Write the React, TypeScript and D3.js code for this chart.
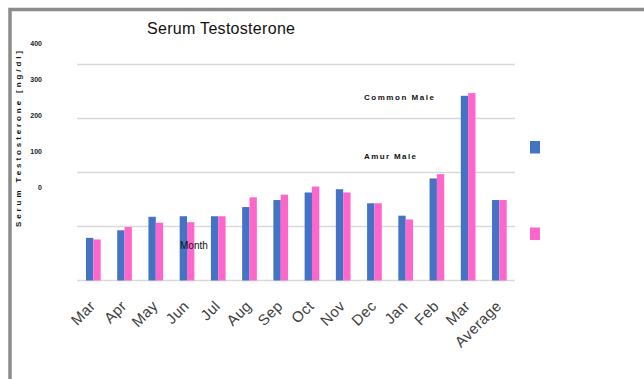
import React from "react";
import * as d3 from "d3";

const categories = ["Mar", "Apr", "May", "Jun", "Jul", "Aug", "Sep", "Oct", "Nov", "Dec", "Jan", "Feb", "Mar", "Average"];
const commonMale = [79, 93, 118, 119, 119, 136, 149, 163, 169, 143, 120, 189, 342, 149];
const amurMale = [76, 99, 107, 108, 119, 154, 159, 174, 163, 143, 113, 197, 347, 149];
const yTicks = [0, 100, 200, 300, 400];
const yTickLabels = ["400", "300", "200", "100", "0"];
const seriesNames = ["Common Male", "Amur Male"];
const colors = ["#4472C4", "#FF66CC"];

const W = 644;
const H = 379;

export default function App() {
  const x = d3
    .scaleBand<number>()
    .domain(categories.map((_, i) => i))
    .range([77.7, 515])
    .paddingInner(0.53)
    .paddingOuter(0.265);
  const inner = d3.scaleBand<number>().domain([0, 1]).range([0, x.bandwidth()]);
  const y = d3.scaleLinear().domain([0, 400]).range([280.5, 64.5]);
  const series = [commonMale, amurMale];
  const font = "'Liberation Sans', Arial, sans-serif";

  return (
    <svg
      width={W}
      height={H}
      style={{ position: "absolute", left: 0, top: 0, background: "#fff" }}
      fontFamily={font}
    >
      <rect x={0} y={0} width={W} height={H} fill="#fff" />
      {/* frame */}
      <rect x={10} y={9.5} width={W + 20} height={H + 20} fill="none" stroke="#8c8c8c" strokeWidth={3.5} />

      {/* title */}
      <text x={147} y={34} fontSize={16} fill="#111" letterSpacing={0.3}>
        Serum Testosterone
      </text>

      {/* gridlines */}
      {yTicks.map((t) => (
        <line key={t} x1={77} x2={515} y1={y(t)} y2={y(t)} stroke="#d9d9d9" strokeWidth={1.5} />
      ))}

      {/* misplaced tick labels */}
      {yTickLabels.map((l, i) => (
        <text
          key={i}
          x={42}
          y={46 + i * 36}
          fontSize={7}
          fontWeight="bold"
          textAnchor="end"
          fill="#222"
        >
          {l}
        </text>
      ))}

      {/* y-axis title */}
      <text
        transform="translate(21,139) rotate(-90)"
        textAnchor="middle"
        fontSize={8}
        fontWeight="bold"
        fill="#111"
        textLength={176}
        lengthAdjust="spacing"
      >
        Serum Testosterone [ng/dl]
      </text>

      {/* bars */}
      {series.map((vals, s) =>
        vals.map((v, i) => (
          <rect
            key={`${s}-${i}`}
            x={(x(i) as number) + (inner(s) as number)}
            y={y(v)}
            width={inner.bandwidth()}
            height={y(0) - y(v)}
            fill={colors[s]}
          />
        ))
      )}

      {/* x labels */}
      {categories.map((c, i) => {
        const cx = (x(i) as number) + x.bandwidth() / 2 + 3;
        return (
          <text
            key={i}
            transform={`translate(${cx},${307}) rotate(-45)`}
            textAnchor="end"
            fontSize={15}
            letterSpacing={0.4}
            fill="#404040"
          >
            {c}
          </text>
        );
      })}

      {/* axis title "Month" */}
      <text x={180} y={249} fontSize={10} fill="#111">
        Month
      </text>

      {/* floating series names */}
      <text x={364} y={100} fontSize={8} fontWeight="bold" fill="#111" textLength={70} lengthAdjust="spacing">
        {seriesNames[0]}
      </text>
      <text x={364} y={159} fontSize={8} fontWeight="bold" fill="#111" textLength={52} lengthAdjust="spacing">
        {seriesNames[1]}
      </text>

      {/* legend swatches */}
      {colors.map((c, i) => (
        <rect key={c} x={530} y={141 + i * 86.5} width={10} height={12.5} fill={c} />
      ))}
    </svg>
  );
}
